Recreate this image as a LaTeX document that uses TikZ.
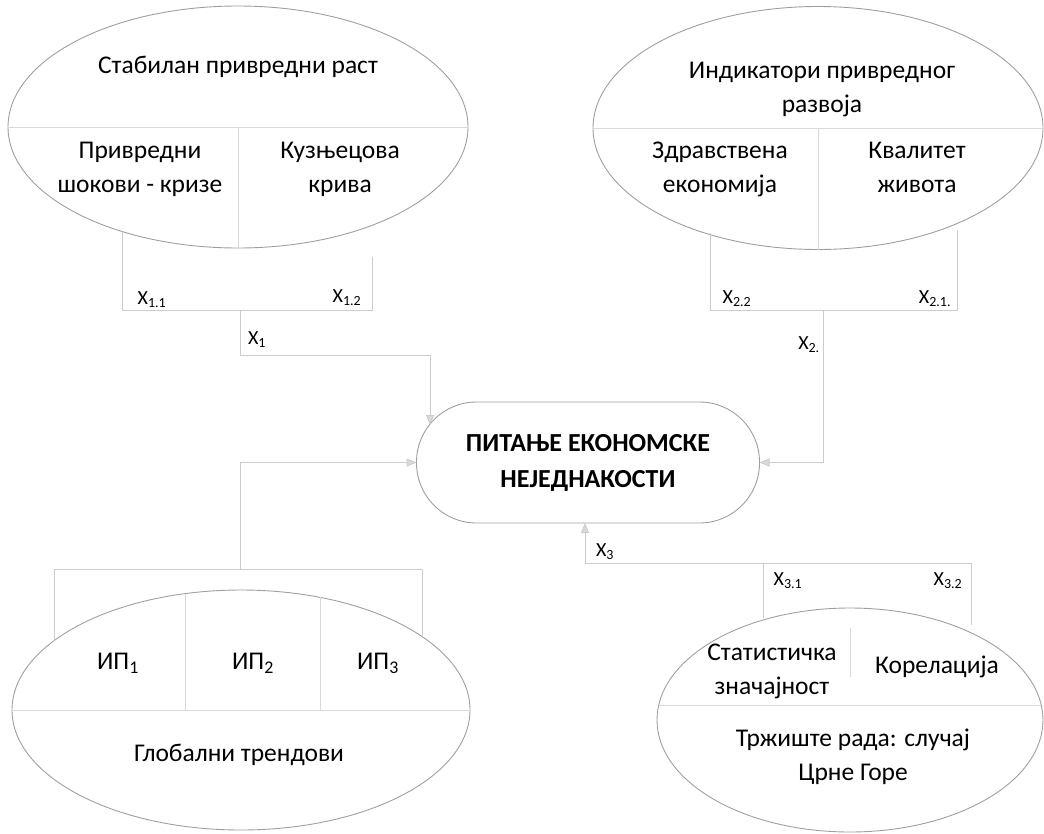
\documentclass[tikz,border=0pt]{standalone}
\usepackage{fontspec}
\setmainfont{Carlito}
\usetikzlibrary{shapes.geometric,arrows.meta}
\begin{document}
\begin{tikzpicture}[x=1pt,y=-1pt,
  oval/.style={draw=gray!75, line width=0.9pt, ellipse, inner sep=0pt, outer sep=0pt},
  div/.style={draw=gray!30, line width=0.8pt},
  conn/.style={draw=gray!40, line width=0.8pt},
  arr/.style={conn, -{Triangle[length=10pt,width=8pt,fill=gray!30]}},
  txt/.style={font=\fontsize{25.5}{34}\selectfont, align=center, inner sep=0pt},
  lbl/.style={font=\fontsize{20}{22}\selectfont, inner sep=0pt}]
\useasboundingbox (0,0) rectangle (1044,833);

% ---------- ellipses ----------
\node[oval, minimum width=460pt, minimum height=242pt] (e1) at (238,127) {};
\node[oval, minimum width=450pt, minimum height=243pt] (e2) at (818,128) {};
\node[oval, minimum width=458pt, minimum height=240pt] (e3) at (241,710) {};
\node[oval, minimum width=386pt, minimum height=224pt] (e4) at (850,720) {};

% ---------- centre node ----------
\node[draw=gray!75, line width=0.9pt, rounded corners=60pt, minimum width=343pt,
      minimum height=121pt, inner sep=0pt, outer sep=0pt, align=center,
      font=\fontsize{26}{36}\selectfont\bfseries] (c) at (588,462.5)
      {ПИТАЊЕ ЕКОНОМСКЕ\strut\\НЕЈЕДНАКОСТИ\strut};

% ---------- dividers inside ellipses ----------
\draw[div] (e1.west) -- (e1.east);
\draw[div] (e1.center) -- (e1.south);
\draw[div] (e2.west) -- (e2.east);
\draw[div] (e2.center) -- (e2.south);
\draw[div] (e3.west) -- (e3.east);
\draw[div] (185,594) -- (185,710);
\draw[div] (320,597) -- (320,710);
\draw[div] (659,705) -- (1041,705);
\draw[div] (850,628) -- (850,677);

% ---------- texts ----------
\node[txt] (t1)  at (238,67)  {Стабилан привредни раст\strut};
\node[txt] (t11) at (140,169) {Привредни\strut\\шокови - кризе\strut};
\node[txt] (t12) at (340,169) {Кузњецова\strut\\крива\strut};
\node[txt] (t2)  at (822,89)  {Индикатори привредног\strut\\развоја\strut};
\node[txt] (t21) at (720,169) {Здравствена\strut\\економија\strut};
\node[txt] (t22) at (917,169) {Квалитет\strut\\живота\strut};
\node[txt] (ip1) at (118,663) {ИП\textsubscript{1}\strut};
\node[txt] (ip2) at (253,663) {ИП\textsubscript{2}\strut};
\node[txt] (ip3) at (378,663) {ИП\textsubscript{3}\strut};
\node[txt] (t3)  at (239,755) {Глобални трендови\strut};
\node[txt] (t41) at (772,671) {Статистичка\strut\\значајност\strut};
\node[txt] (t42) at (937,667) {Корелација\strut};
\node[txt] (t4)  at (853,757) {Тржиште рада: случај\strut\\Црне Горе\strut};

% ---------- bracket coordinates ----------
\coordinate (a1) at (122,232);  \coordinate (a2) at (122,310);
\coordinate (a3) at (372,257);  \coordinate (a4) at (372,310);
\coordinate (x1a) at (240,310); \coordinate (x1b) at (240,355);
\coordinate (x1c) at (430,355); \coordinate (x1d) at (430,425);

\coordinate (b1) at (710,233);  \coordinate (b2) at (710,310);
\coordinate (b3) at (957,230);  \coordinate (b4) at (957,310);
\coordinate (x2a) at (823,310);

\coordinate (g1) at (54,641);   \coordinate (g2) at (54,569);
\coordinate (g3) at (422,637);  \coordinate (g4) at (422,569);
\coordinate (g0) at (240,569);

\coordinate (h1) at (585,563);  \coordinate (h2) at (971,563);
\coordinate (h3) at (763,563);  \coordinate (h4) at (763,618);
\coordinate (h5) at (971,625);

% ---------- connectors ----------
\draw[conn] (a1) -- (a2) -- (a4) -- (a3);
\draw[conn] (x1a) -- (x1b);
\draw[arr] (x1b) -- (x1c) -- (x1d);

\draw[conn] (b1) -- (b2) -- (b4) -- (b3);
\draw[arr] (x2a) |- (c.east);

\draw[conn] (g1) -- (g2) -- (g4) -- (g3);
\draw[arr] (g0) |- (c.west);

\draw[conn] (h1) -- (h2) -- (h5);
\draw[conn] (h3) -- (h4);
\draw[arr] (h1) -- (h1 |- c.south);

% ---------- labels ----------
\node[lbl] (l11) at (152,300) {X\textsubscript{1.1}};
\node[lbl] (l12) at (347,298) {X\textsubscript{1.2}};
\node[lbl] (l1)  at (257,340) {X\textsubscript{1}};
\node[lbl] (l22) at (737,299) {X\textsubscript{2.2}};
\node[lbl] (l21) at (935,299) {X\textsubscript{2.1.}};
\node[lbl] (l2)  at (809,345) {X\textsubscript{2.}};
\node[lbl] (l3)  at (605,552) {X\textsubscript{3}};
\node[lbl] (l31) at (788,581) {X\textsubscript{3.1}};
\node[lbl] (l32) at (948,581) {X\textsubscript{3.2}};
\end{tikzpicture}
\end{document}
